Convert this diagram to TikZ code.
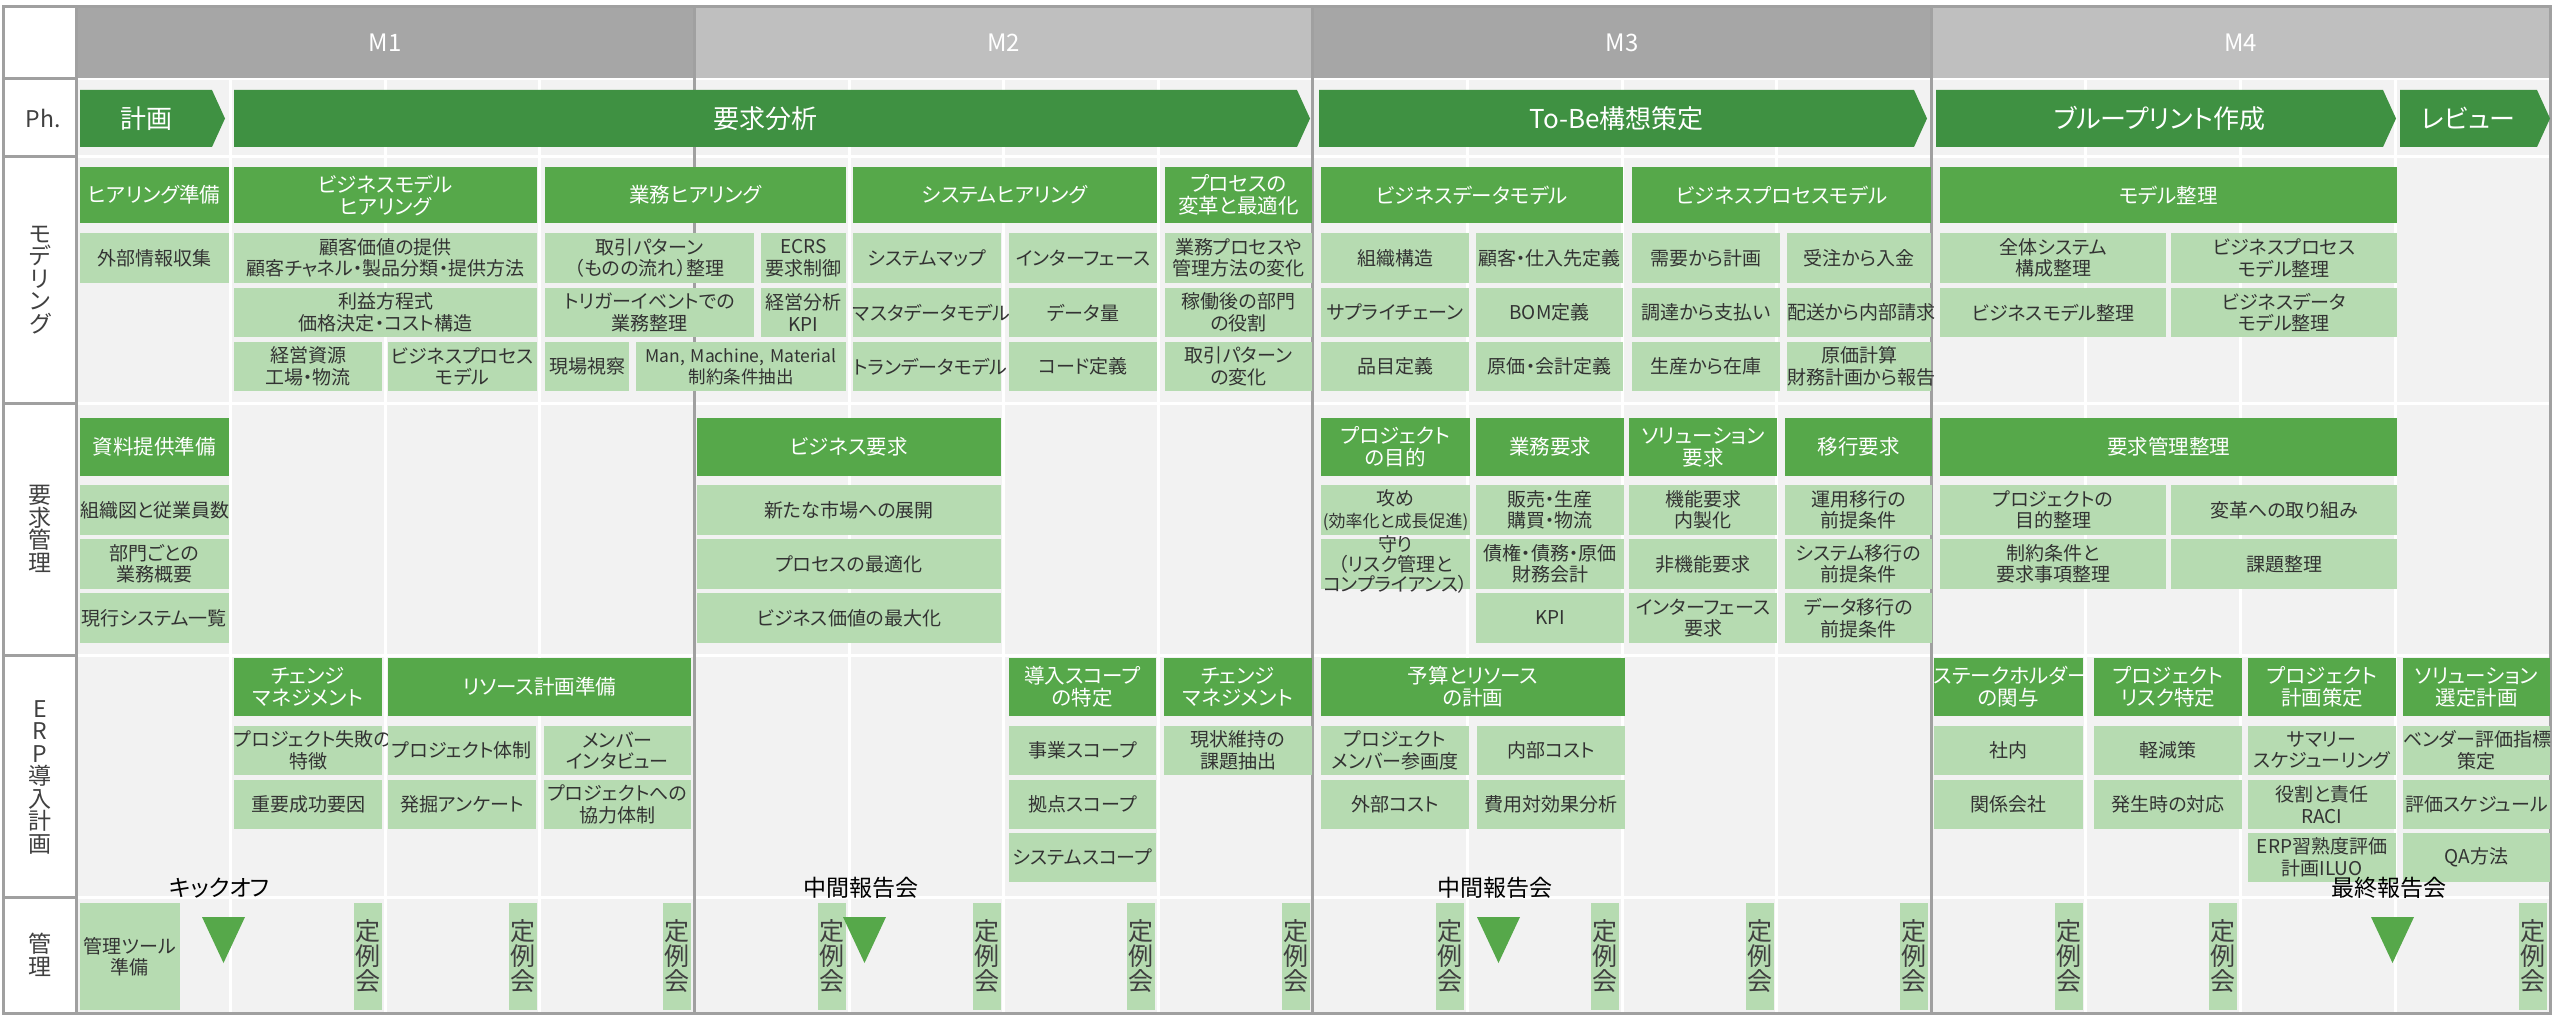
\documentclass[tikz,border=0pt]{standalone}
\usepackage{fontspec}
\setmainfont{Noto Sans CJK JP}[RawFeature={+palt}]
\definecolor{headgreen}{RGB}{86,168,74}
\definecolor{phasegreen}{RGB}{63,145,66}
\definecolor{lightgreen}{RGB}{182,219,177}
\definecolor{gridbg}{RGB}{242,242,242}
\definecolor{monthdark}{RGB}{166,166,166}
\definecolor{monthlight}{RGB}{191,191,191}
\definecolor{linegray}{RGB}{160,160,160}
\definecolor{boxtext}{RGB}{51,51,51}
\definecolor{labeltext}{RGB}{64,64,64}

% box from x1 to x2, y1 to y2 (pixels, y down)
\newcommand{\cellbox}[7]{%
  \pgfmathsetmacro{\cellw}{#4-#3}%
  \pgfmathsetmacro{\cellh}{#6-#5}%
  \node[#1, text width=\cellw pt, minimum height=\cellh pt] (#2)
    at ({(#3+#4)/2},{(#5+#6)/2}) {#7};}

\begin{document}
\begin{tikzpicture}[x=1pt, y=-1pt,
hd/.style={fill=headgreen, text=white, inner sep=0pt, align=center,
  font=\fontsize{20.5}{22}\selectfont},
lt/.style={fill=lightgreen, text=boxtext, inner sep=0pt, align=center,
  font=\fontsize{19}{21.5}\selectfont},
lttext/.style={text=boxtext, inner sep=0pt, align=center,
  font=\fontsize{19}{20}\selectfont},
meet/.style={lt, text=labeltext, font=\fontsize{25}{25}\selectfont},
phase/.style={text=white, font=\fontsize{26}{28}\selectfont},
month/.style={text=white, font=\fontsize{24}{26}\selectfont},
rowlabel/.style={text=labeltext, align=center, inner sep=0pt,
  font=\fontsize{23}{22.5}\selectfont},
milestone/.style={text=black, inner sep=0pt, font=\fontsize{23}{25}\selectfont},
weekline/.style={white, line width=3pt},
monthline/.style={linegray, line width=3pt}]

\useasboundingbox (0,0) rectangle (2560,1022);
\fill[white] (0,0) rectangle (2560,1022);

% grid
\fill[gridbg] (76,79) rectangle (2550,1013);
\foreach \w in {1,2,3,5,6,7,9,10,11,13,14,15}
  \draw[weekline] ({76+\w*154.6},79) -- ({76+\w*154.6},1013);
\foreach \y in {79,157,403,655,897}
  \draw[weekline] (76,\y) -- (2550,\y);
\foreach \i/\col in {1/monthdark,2/monthlight,3/monthdark,4/monthlight} {
  \fill[\col] ({76+(\i-1)*618.4},7) rectangle ({76+\i*618.4},78);
  \node[month] (m\i) at ({76+(\i-0.5)*618.4},43) {M\i};
}
\foreach \i in {1,2,3}
  \draw[monthline] ({76+\i*618.4},7) -- ({76+\i*618.4},1013);

% row labels
\fill[white] (3,7) rectangle (76,1013);
\foreach \y in {79,157,403,655,897}
  \draw[monthline] (3,\y) -- (76,\y);
\draw[monthline] (76,7) -- (76,1013);
\draw[monthline] (3,7) rectangle (2550,1013);
\node[rowlabel] (lph) at (43,118) {Ph.};
\node[rowlabel] (lmodel) at (40,280) {モ\\デ\\リ\\ン\\グ};
\node[rowlabel] (lreq) at (40,529) {要\\求\\管\\理};
\node[rowlabel] (lerp) at (40,777) {E\\R\\P\\導\\入\\計\\画};
\node[rowlabel] (lmgmt) at (40,955) {管\\理};

% phases
\foreach \xa/\xb/\nm/\txt in {80/225/plan/計画, 234/1310/analysis/要求分析,
    1319/1927/tobe/To-Be構想策定, 1936/2396/blueprint/ブループリント作成,
    2400/2550/review/レビュー} {
  \fill[phasegreen] (\xa,90) -- ({\xb-13},90) -- (\xb,118.5)
    -- ({\xb-13},147) -- (\xa,147) -- cycle;
  \node[phase] (ph\nm) at ({(\xa+\xb-13)/2},118.5) {\txt};
}

% modeling
\cellbox{hd}{hearprep}{80}{228.5}{167}{223}{ヒアリング準備}
\cellbox{lt}{extinfo}{80}{228.5}{233}{283}{外部情報収集}
\cellbox{hd}{bmhear}{234}{537}{167}{223}{ビジネスモデル\\ヒアリング}
\cellbox{lt}{custval}{234}{537}{233}{283}{顧客価値の提供\\顧客チャネル・製品分類・提供方法}
\cellbox{lt}{profit}{234}{537}{288}{337}{利益方程式\\価格決定・コスト構造}
\cellbox{lt}{mgmtres}{234}{382}{342}{391}{経営資源\\工場・物流}
\cellbox{lt}{bpmodel}{388}{537}{342}{391}{ビジネスプロセス\\モデル}
\cellbox{hd}{opshear}{545}{846}{167}{223}{業務ヒアリング}
\cellbox{lt}{tradepat}{545}{754}{233}{283}{取引パターン\\（ものの流れ）整理}
\cellbox{lt}{ecrs}{761}{846}{233}{283}{ECRS\\要求制御}
\cellbox{lt}{trigger}{545}{754}{288}{337}{トリガーイベントでの\\業務整理}
\cellbox{lt}{kpi}{761}{846}{288}{337}{経営分析\\KPI}
\cellbox{lt}{site}{545}{629}{342}{391}{現場視察}
\cellbox{lt, font=\fontsize{17.5}{21}\selectfont}{fourm}{636}{846}{342}{391}{Man, Machine, Material\\制約条件抽出}
\cellbox{hd}{syshear}{853}{1157}{167}{223}{システムヒアリング}
\cellbox{lt}{sysmap}{853}{1001}{233}{283}{システムマップ}
\cellbox{lt}{iface}{1009}{1157}{233}{283}{インターフェース}
\cellbox{lt}{master}{853}{1001}{288}{337}{マスタデータモデル}
\cellbox{lt}{volume}{1009}{1157}{288}{337}{データ量}
\cellbox{lt}{trans}{853}{1001}{342}{391}{トランデータモデル}
\cellbox{lt}{code}{1009}{1157}{342}{391}{コード定義}
\cellbox{hd}{procopt}{1165}{1312}{167}{223}{プロセスの\\変革と最適化}
\cellbox{lt}{bpchange}{1165}{1312}{233}{283}{業務プロセスや\\管理方法の変化}
\cellbox{lt}{deptrole}{1165}{1312}{288}{337}{稼働後の部門\\の役割}
\cellbox{lt}{patchange}{1165}{1312}{342}{391}{取引パターン\\の変化}
\cellbox{hd}{bdmodel}{1321}{1623}{167}{223}{ビジネスデータモデル}
\cellbox{lt}{org}{1321}{1469}{233}{283}{組織構造}
\cellbox{lt}{custsup}{1476}{1623}{233}{283}{顧客・仕入先定義}
\cellbox{lt}{supply}{1321}{1469}{288}{337}{サプライチェーン}
\cellbox{lt}{bom}{1476}{1623}{288}{337}{BOM定義}
\cellbox{lt}{item}{1321}{1469}{342}{391}{品目定義}
\cellbox{lt}{costacc}{1476}{1623}{342}{391}{原価・会計定義}
\cellbox{hd}{bprocmodel}{1632}{1931}{167}{223}{ビジネスプロセスモデル}
\cellbox{lt}{d2p}{1632}{1780}{233}{283}{需要から計画}
\cellbox{lt}{o2c}{1787}{1931}{233}{283}{受注から入金}
\cellbox{lt}{p2p}{1632}{1780}{288}{337}{調達から支払い}
\cellbox{lt}{d2b}{1787}{1931}{288}{337}{配送から内部請求}
\cellbox{lt}{m2s}{1632}{1780}{342}{391}{生産から在庫}
\cellbox{lt}{r2r}{1787}{1931}{342}{391}{原価計算\\財務計画から報告}
\cellbox{hd}{modelorg}{1940}{2397}{167}{223}{モデル整理}
\cellbox{lt}{sysconf}{1940}{2166}{233}{283}{全体システム\\構成整理}
\cellbox{lt}{bpmorg}{2171}{2397}{233}{283}{ビジネスプロセス\\モデル整理}
\cellbox{lt}{bmorg}{1940}{2166}{288}{337}{ビジネスモデル整理}
\cellbox{lt}{bdmorg}{2171}{2397}{288}{337}{ビジネスデータ\\モデル整理}

% requirements
\cellbox{hd}{docprep}{80}{228.5}{418}{476}{資料提供準備}
\cellbox{lt}{orgchart}{80}{228.5}{485}{535}{組織図と従業員数}
\cellbox{lt}{deptops}{80}{228.5}{539}{589}{部門ごとの\\業務概要}
\cellbox{lt}{cursys}{80}{228.5}{593}{643}{現行システム一覧}
\cellbox{hd}{bizreq}{697}{1001}{418}{476}{ビジネス要求}
\cellbox{lt}{newmkt}{697}{1001}{485}{535}{新たな市場への展開}
\cellbox{lt}{procbest}{697}{1001}{539}{589}{プロセスの最適化}
\cellbox{lt}{bizvalue}{697}{1001}{593}{643}{ビジネス価値の最大化}
\cellbox{hd}{projgoal}{1321}{1470}{418}{476}{プロジェクト\\の目的}
\cellbox{lt}{offense}{1321}{1470}{485}{535}{攻め\\\fontsize{17}{21.5}\selectfont(効率化と成長促進)}
\cellbox{lt}{defense}{1321}{1470}{539}{589}{}
\node[lttext] (defensetext) at (1395.5,564) {守り\\（リスク管理と\\コンプライアンス）};
\cellbox{hd}{opsreq}{1476}{1624}{418}{476}{業務要求}
\cellbox{lt}{salesprod}{1476}{1624}{485}{535}{販売・生産\\購買・物流}
\cellbox{lt}{finance}{1476}{1624}{539}{589}{債権・債務・原価\\財務会計}
\cellbox{lt}{kpireq}{1476}{1624}{593}{643}{KPI}
\cellbox{hd}{solreq}{1629}{1777}{418}{476}{ソリューション\\要求}
\cellbox{lt}{funcreq}{1629}{1777}{485}{535}{機能要求\\内製化}
\cellbox{lt}{nfreq}{1629}{1777}{539}{589}{非機能要求}
\cellbox{lt}{ifreq}{1629}{1777}{593}{643}{インターフェース\\要求}
\cellbox{hd}{migreq}{1785}{1932}{418}{476}{移行要求}
\cellbox{lt}{opsmig}{1785}{1932}{485}{535}{運用移行の\\前提条件}
\cellbox{lt}{sysmig}{1785}{1932}{539}{589}{システム移行の\\前提条件}
\cellbox{lt}{datamig}{1785}{1932}{593}{643}{データ移行の\\前提条件}
\cellbox{hd}{reqorg}{1940}{2397}{418}{476}{要求管理整理}
\cellbox{lt}{goalorg}{1940}{2166}{485}{535}{プロジェクトの\\目的整理}
\cellbox{lt}{reform}{2171}{2397}{485}{535}{変革への取り組み}
\cellbox{lt}{constr}{1940}{2166}{539}{589}{制約条件と\\要求事項整理}
\cellbox{lt}{issues}{2171}{2397}{539}{589}{課題整理}

% ERP planning
\cellbox{hd}{changeone}{234}{382}{658}{716}{チェンジ\\マネジメント}
\cellbox{lt}{failure}{234}{382}{726}{775}{プロジェクト失敗の\\特徴}
\cellbox{lt}{ksf}{234}{382}{780}{829}{重要成功要因}
\cellbox{hd}{resprep}{388}{691}{658}{716}{リソース計画準備}
\cellbox{lt}{team}{388}{536}{726}{775}{プロジェクト体制}
\cellbox{lt}{interview}{544}{691}{726}{775}{メンバー\\インタビュー}
\cellbox{lt}{survey}{388}{536}{780}{829}{発掘アンケート}
\cellbox{lt}{coop}{544}{691}{780}{829}{プロジェクトへの\\協力体制}
\cellbox{hd}{scope}{1009}{1156}{658}{716}{導入スコープ\\の特定}
\cellbox{lt}{bizscope}{1009}{1156}{726}{775}{事業スコープ}
\cellbox{lt}{sitescope}{1009}{1156}{780}{829}{拠点スコープ}
\cellbox{lt}{sysscope}{1009}{1156}{833}{882}{システムスコープ}
\cellbox{hd}{changetwo}{1164}{1312}{658}{716}{チェンジ\\マネジメント}
\cellbox{lt}{statusquo}{1164}{1312}{726}{775}{現状維持の\\課題抽出}
\cellbox{hd}{budget}{1321}{1625}{658}{716}{予算とリソース\\の計画}
\cellbox{lt}{commit}{1321}{1469}{726}{775}{プロジェクト\\メンバー参画度}
\cellbox{lt}{intcost}{1477}{1625}{726}{775}{内部コスト}
\cellbox{lt}{extcost}{1321}{1469}{780}{829}{外部コスト}
\cellbox{lt}{roi}{1477}{1625}{780}{829}{費用対効果分析}
\cellbox{hd}{stake}{1934}{2083}{658}{716}{ステークホルダー\\の関与}
\cellbox{lt}{internal}{1934}{2083}{726}{775}{社内}
\cellbox{lt}{affil}{1934}{2083}{780}{829}{関係会社}
\cellbox{hd}{risk}{2094}{2242}{658}{716}{プロジェクト\\リスク特定}
\cellbox{lt}{mitig}{2094}{2242}{726}{775}{軽減策}
\cellbox{lt}{response}{2094}{2242}{780}{829}{発生時の対応}
\cellbox{hd}{projplan}{2248}{2396}{658}{716}{プロジェクト\\計画策定}
\cellbox{lt}{summary}{2248}{2396}{726}{775}{サマリー\\スケジューリング}
\cellbox{lt}{raci}{2248}{2396}{780}{829}{役割と責任\\RACI}
\cellbox{lt}{iluo}{2248}{2396}{833}{882}{ERP習熟度評価\\計画ILUO}
\cellbox{hd}{solsel}{2403}{2550}{658}{716}{ソリューション\\選定計画}
\cellbox{lt}{vendor}{2403}{2550}{726}{775}{ベンダー評価指標\\策定}
\cellbox{lt}{evalsched}{2403}{2550}{780}{829}{評価スケジュール}
\cellbox{lt}{qa}{2403}{2550}{833}{882}{QA方法}

% management
\cellbox{lt}{tools}{80}{179.5}{903}{1010}{管理ツール\\準備}
\foreach \w in {2,3,4,5,6,7,8,9,10,11,12,13,14,16} {
  \pgfmathsetmacro{\mtgr}{76+\w*154.6-3}
  \pgfmathsetmacro{\mtgl}{\mtgr-28}
  \cellbox{meet}{mtg\w}{\mtgl}{\mtgr}{903}{1010}{定\\例\\会}
}
\foreach \xt/\nm/\txt in {223.5/kickoff/キックオフ, 864.5/midone/中間報告会,
    1498.5/midtwo/中間報告会, 2392.5/final/最終報告会} {
  \fill[headgreen] ({\xt-21.5},917) -- ({\xt+21.5},917) -- (\xt,963) -- cycle;
  \node[milestone] (\nm) at ({\xt-4},888) {\txt};
}

\end{tikzpicture}
\end{document}
